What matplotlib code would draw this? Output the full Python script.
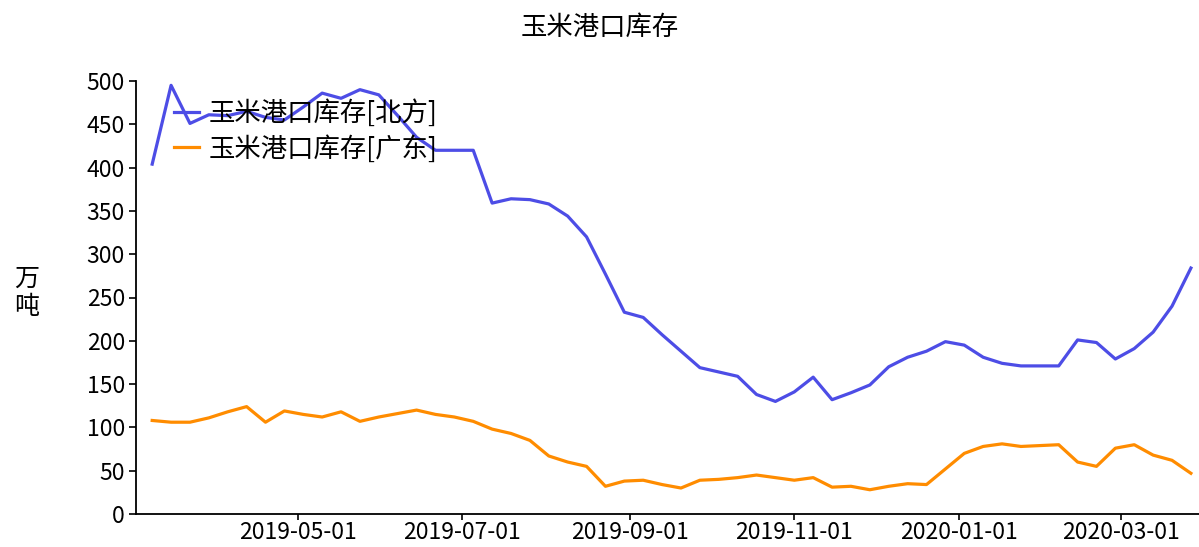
import matplotlib
matplotlib.use("Agg")
import matplotlib.pyplot as plt
import matplotlib.dates as mdates
import pandas as pd

plt.rcParams['font.family'] = ['Noto Sans CJK SC', 'DejaVu Sans']

# 每周数据 2019-03-08 ~ 2020-03-27
dates = pd.date_range("2019-03-08", periods=56, freq="7D")

north = [404, 495, 451, 461, 460, 465, 458, 455, 470, 486,
         480, 490, 484, 460, 435, 420, 420, 420, 359, 364,
         363, 358, 344, 320, 277, 233, 227, 207, 188, 169,
         164, 159, 138, 130, 141, 158, 132, 140, 149, 170,
         181, 188, 199, 195, 181, 174, 171, 171, 171, 201,
         198, 179, 191, 210, 240, 284]

guangdong = [108, 106, 106, 111, 118, 124, 106, 119, 115, 112,
             118, 107, 112, 116, 120, 115, 112, 107, 98, 93,
             85, 67, 60, 55, 32, 38, 39, 34, 30, 39,
             40, 42, 45, 42, 39, 42, 31, 32, 28, 32,
             35, 34, 52, 70, 78, 81, 78, 79, 80, 60,
             55, 76, 80, 68, 62, 47]

tick_dates = ["2019-05-01", "2019-07-01", "2019-09-01",
              "2019-11-01", "2020-01-01", "2020-03-01"]

fig = plt.figure(figsize=(11.99, 5.47), dpi=100)
ax = fig.add_axes([136 / 1199, 1 - 514 / 547, 1 - 136 / 1199, (514 - 81) / 547])

ax.plot(dates, north, color='#4d4de6', linewidth=2.3, label='玉米港口库存[北方]')
ax.plot(dates, guangdong, color='#ff8c00', linewidth=2.3, label='玉米港口库存[广东]')

ax.set_ylim(0, 500)
ax.set_yticks(range(0, 501, 50))
ax.set_xlim(pd.Timestamp("2019-03-02"), pd.Timestamp("2020-03-30"))
ax.set_xticks(pd.to_datetime(tick_dates))
ax.xaxis.set_major_formatter(mdates.DateFormatter('%Y-%m-%d'))

for s in ['top', 'right']:
    ax.spines[s].set_visible(False)
for s in ['left', 'bottom']:
    ax.spines[s].set_linewidth(1.3)
ax.tick_params(axis='both', labelsize=16.5, length=5, width=1.2)
ax.tick_params(axis='x', length=4, pad=1)
ax.tick_params(axis='y', pad=3)

ax.set_ylabel('万\n吨', rotation=0, fontsize=18, va='center', ha='center',
              linespacing=1.1)
ax.yaxis.set_label_coords(-0.103, 0.51)
fig.suptitle('玉米港口库存', fontsize=19, y=0.975)

ax.legend(loc='upper left', bbox_to_anchor=(0.021, 0.995), frameon=False,
          fontsize=19, handlelength=0.95, handletextpad=0.35, labelspacing=0.3,
          borderaxespad=0.2)

fig.savefig('out.png', dpi=100)
